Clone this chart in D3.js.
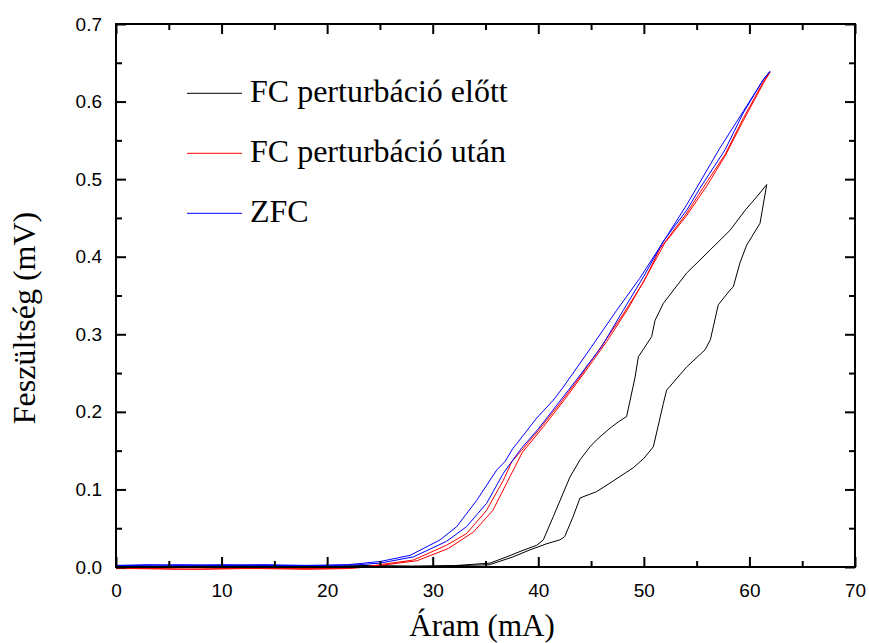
<!DOCTYPE html>
<html>
<head>
<meta charset="utf-8">
<script src="https://cdn.jsdelivr.net/npm/d3@7"></script>
<style>
  body { margin: 0; background: #fff; }
  svg { display: block; }
</style>
</head>
<body>
<svg id="chart" width="869" height="643"></svg>
<script>
// ---------- data ----------
const xTicks = [0, 10, 20, 30, 40, 50, 60, 70];
const yTicks = [0.0, 0.1, 0.2, 0.3, 0.4, 0.5, 0.6, 0.7];
const legendLabels = ["FC perturbáció előtt", "FC perturbáció után", "ZFC"];

// FC before perturbation (black) – up sweep, then down sweep
const blackUpX = [0, 5, 10, 15, 20, 25, 30, 33, 35.4, 37.6, 39.2, 40.8, 42.05, 42.5, 43.3, 43.95, 45.5, 47, 49, 50, 50.9, 51.85, 52.16, 54.06, 55.8, 56.3, 57.05, 58.16, 58.47, 59.1, 59.74, 61.0, 61.64];
const blackUpY = [0.001, 0.001, 0.001, 0.001, 0.001, 0.001, 0.001, 0.002, 0.003, 0.013, 0.022, 0.030, 0.035, 0.039, 0.065, 0.089, 0.097, 0.110, 0.128, 0.140, 0.155, 0.211, 0.228, 0.258, 0.280, 0.293, 0.338, 0.357, 0.361, 0.392, 0.415, 0.443, 0.493];
const blackDownX = [61.64, 60.68, 59.6, 58.16, 56.3, 54.06, 51.85, 51.06, 50.74, 49.48, 49.17, 48.37, 47.58, 46.79, 45.53, 44.9, 43.95, 43.0, 41.42, 40.48, 39.85, 38.27, 37.0, 35.43, 32.3, 28, 24, 20, 15, 10, 5, 0];
const blackDownY = [0.493, 0.477, 0.46, 0.434, 0.409, 0.379, 0.340, 0.318, 0.297, 0.271, 0.245, 0.194, 0.187, 0.179, 0.164, 0.155, 0.138, 0.116, 0.065, 0.035, 0.028, 0.020, 0.013, 0.005, 0.002, 0.001, 0.002, 0.001, 0.002, 0.002, 0.001, 0.001];

// FC after perturbation (red)
const redUpX = [0, 4, 8, 12, 16, 20, 23, 25, 28.16, 31.3, 33.2, 35.1, 36.7, 37.5, 38.4, 40, 42, 44, 46, 48, 50, 51.5, 52.5, 54, 56, 57.7, 59.4, 61.3, 61.95];
const redUpY = [-0.002, -0.002, -0.003, -0.002, -0.002, -0.002, -0.001, 0.003, 0.009, 0.028, 0.043, 0.073, 0.112, 0.136, 0.150, 0.176, 0.210, 0.246, 0.285, 0.325, 0.368, 0.410, 0.428, 0.455, 0.497, 0.532, 0.578, 0.625, 0.638];
const redDownX = [61.95, 61.3, 59.4, 57.7, 56, 54, 52, 50.5, 48.5, 46.5, 44.5, 42.5, 40.5, 38.5, 37.0, 35.7, 33.85, 31.5, 28.5, 25, 22, 18, 14, 10, 6, 2, 0];
const redDownY = [0.638, 0.623, 0.575, 0.530, 0.492, 0.452, 0.418, 0.381, 0.333, 0.291, 0.253, 0.216, 0.181, 0.148, 0.108, 0.073, 0.045, 0.024, 0.008, 0.002, -0.002, -0.003, -0.002, -0.002, -0.003, -0.002, -0.002];

// ZFC (blue)
const blueUpX = [0, 3, 6, 10, 15, 20, 23, 25, 28.16, 31.3, 33.2, 35.1, 36.7, 37.6, 38.4, 40, 43.6, 46, 48.05, 50, 51.85, 54.06, 55.3, 57.7, 59.4, 61.3, 61.95];
const blueUpY = [0.002, 0.003, 0.002, 0.003, 0.002, 0.002, 0.003, 0.005, 0.013, 0.033, 0.052, 0.082, 0.121, 0.138, 0.153, 0.178, 0.241, 0.284, 0.331, 0.375, 0.420, 0.460, 0.488, 0.538, 0.585, 0.628, 0.639];
const blueDownX = [61.95, 61.3, 59.4, 57.2, 54.06, 51.5, 49.6, 47.43, 45, 42.37, 41.42, 39.85, 37.96, 37.6, 36.85, 36.06, 34.17, 32.27, 30.7, 27.85, 25, 22, 18, 14, 10, 6, 2, 0];
const blueDownY = [0.639, 0.628, 0.587, 0.540, 0.467, 0.412, 0.372, 0.331, 0.283, 0.232, 0.215, 0.192, 0.159, 0.153, 0.136, 0.125, 0.086, 0.052, 0.035, 0.015, 0.007, 0.003, 0.002, 0.003, 0.002, 0.003, 0.002, 0.002];

const seriesColors = ["#000000", "#ff0000", "#0000ff"];

// ---------- layout ----------
const svg = d3.select("#chart");
const L = 116, R = 855, T = 24, B = 567;
const x = d3.scaleLinear().domain([0, 70]).range([L, R]);
const y = d3.scaleLinear().domain([0, 0.7]).range([B, T]);

const zip = (xs, ys) => xs.map((v, i) => [v, ys[i]]);
const series = [
  zip(blackUpX, blackUpY).concat(zip(blackDownX, blackDownY)),
  zip(redUpX, redUpY).concat(zip(redDownX, redDownY)),
  zip(blueUpX, blueUpY).concat(zip(blueDownX, blueDownY))
];

const line = d3.line().x(d => x(d[0])).y(d => y(d[1]));

svg.append("g").selectAll("path").data(series).join("path")
  .attr("d", line)
  .attr("fill", "none")
  .attr("stroke", (d, i) => seriesColors[i])
  .attr("stroke-width", 1)
  .attr("stroke-linejoin", "round");

// ---------- axes ----------
const minorX = d3.range(5, 70, 10);
const minorY = d3.range(0.05, 0.7, 0.1);
const tickFont = "'Liberation Sans', Arial, sans-serif";

function styleAxis(g) {
  g.select(".domain").remove();
  g.selectAll(".tick line").attr("stroke", "#000").attr("stroke-width", 2);
  g.selectAll("text").attr("font-family", tickFont).attr("font-size", 19).attr("fill", "#000");
}

svg.append("g").attr("transform", `translate(0,${B})`)
  .call(d3.axisBottom(x).tickValues(xTicks).tickSize(-10).tickPadding(17).tickFormat(d3.format("d")))
  .call(styleAxis);
svg.append("g").attr("transform", `translate(0,${B})`)
  .call(d3.axisBottom(x).tickValues(minorX).tickSize(-6).tickFormat(""))
  .call(styleAxis);
svg.append("g").attr("transform", `translate(0,${T})`)
  .call(d3.axisTop(x).tickValues(xTicks).tickSize(-10).tickFormat(""))
  .call(styleAxis);
svg.append("g").attr("transform", `translate(0,${T})`)
  .call(d3.axisTop(x).tickValues(minorX).tickSize(-6).tickFormat(""))
  .call(styleAxis);
svg.append("g").attr("transform", `translate(${L},0)`)
  .call(d3.axisLeft(y).tickValues(yTicks).tickSize(-10).tickPadding(14).tickFormat(d3.format(".1f")))
  .call(styleAxis);
svg.append("g").attr("transform", `translate(${L},0)`)
  .call(d3.axisLeft(y).tickValues(minorY).tickSize(-6).tickFormat(""))
  .call(styleAxis);
svg.append("g").attr("transform", `translate(${R},0)`)
  .call(d3.axisRight(y).tickValues(yTicks).tickSize(-10).tickFormat(""))
  .call(styleAxis);
svg.append("g").attr("transform", `translate(${R},0)`)
  .call(d3.axisRight(y).tickValues(minorY).tickSize(-6).tickFormat(""))
  .call(styleAxis);

svg.append("rect")
  .attr("x", L).attr("y", T).attr("width", R - L).attr("height", B - T)
  .attr("fill", "none").attr("stroke", "#000").attr("stroke-width", 2);

// ---------- titles ----------
const serif = "'Liberation Serif', 'Times New Roman', serif";
svg.append("text")
  .attr("x", 482).attr("y", 636)
  .attr("text-anchor", "middle")
  .attr("font-family", serif).attr("font-size", 31)
  .text("Áram (mA)");

svg.append("text")
  .attr("transform", `translate(35,318) rotate(-90)`)
  .attr("text-anchor", "middle")
  .attr("font-family", serif).attr("font-size", 32)
  .text("Feszültség (mV)");

// ---------- legend ----------
const legendY = [93.3, 153.3, 213.3];
const lg = svg.append("g").selectAll("g").data(legendLabels).join("g")
  .attr("transform", (d, i) => `translate(0,${legendY[i]})`);
lg.append("line")
  .attr("x1", 187).attr("x2", 242).attr("y1", 0).attr("y2", 0)
  .attr("stroke", (d, i) => seriesColors[i]).attr("stroke-width", 1);
lg.append("text")
  .attr("x", 250).attr("y", 8.5)
  .attr("font-family", serif).attr("font-size", 32)
  .text(d => d);
</script>
</body>
</html>
